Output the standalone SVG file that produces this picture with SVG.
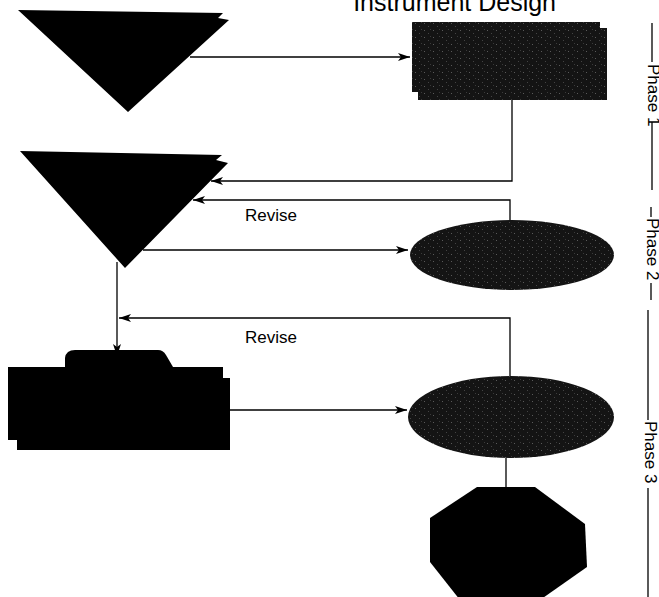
<svg xmlns="http://www.w3.org/2000/svg" width="659" height="597" viewBox="0 0 659 597">
<style>
  .lbl{font-family:"Liberation Sans",Arial,sans-serif;font-size:17px;fill:#000}
  .phase{font-family:"Liberation Sans",Arial,sans-serif;font-size:17px;fill:#000}
  .title{font-family:"Liberation Sans",Arial,sans-serif;font-size:25px;fill:#000}
  .conn{fill:none;stroke:#000;stroke-width:1.3}
  .solid{fill:#000}
  .speck{fill:url(#speckle)}
  .pl{stroke:#000;stroke-width:1.3}
</style>
<defs>
  <marker id="arr" viewBox="0 0 12 8" refX="12" refY="4" markerWidth="12" markerHeight="8" markerUnits="userSpaceOnUse" orient="auto">
    <path d="M0,0 L12,4 L0,8 L3,4 Z" fill="#000"/>
  </marker>
  <pattern id="speckle" width="9" height="7" patternUnits="userSpaceOnUse">
    <rect width="9" height="7" fill="#141414"/>
    <rect x="1" y="2" width="1" height="1" fill="#5a5a5a"/>
    <rect x="5" y="5" width="1" height="1" fill="#444"/>
    <rect x="7" y="1" width="1" height="1" fill="#3a3a3a"/>
  </pattern>
</defs>
<rect width="659" height="597" fill="#fff"/>
<text class="title" x="556" y="11" text-anchor="end">Instrument Design</text>

<g id="connectors">
  <path class="conn" d="M190,57 L410,57" marker-end="url(#arr)"/>
  <path class="conn" d="M512,100 V181 H211" marker-end="url(#arr)"/>
  <path class="conn" d="M510,221 V200 H193" marker-end="url(#arr)"/>
  <path class="conn" d="M143,250 H408" marker-end="url(#arr)"/>
  <path class="conn" d="M117,262 V356" marker-end="url(#arr)"/>
  <path class="conn" d="M510,377 V318 H119" marker-end="url(#arr)"/>
  <path class="conn" d="M230,410 H407" marker-end="url(#arr)"/>
  <path class="conn" d="M506,458 V488"/>
  <text class="lbl" x="245" y="221">Revise</text>
  <text class="lbl" x="245" y="343">Revise</text>
</g>

<g id="triangle1">
  <polygon class="solid" points="18,10 223,13 218,18 229,20 128,112"/>
</g>
<g id="rect1">
  <rect class="speck" x="412" y="22" width="188" height="70"/>
  <rect class="speck" x="418" y="28" width="189" height="72"/>
</g>
<g id="triangle2">
  <polygon class="solid" points="20,151 222,155 216,160 228,163 125,268"/>
</g>
<g id="ellipse1">
  <ellipse class="speck" cx="512" cy="255" rx="102" ry="35"/>
</g>
<g id="camera">
  <path class="solid" d="M65,367 L65,358 Q66,350 75,350 L158,350 Q163,350 166,355 L173,367 Z"/>
  <rect class="solid" x="8" y="367" width="215" height="73"/>
  <rect class="solid" x="17" y="378" width="213" height="72"/>
</g>
<g id="ellipse2">
  <ellipse class="speck" cx="511" cy="417" rx="103" ry="41"/>
</g>
<g id="octagon">
  <polygon class="solid" points="477,487 535,487 585,524 587,567 540,600 460,600 430,562 430,518"/>
</g>

<g id="phases">
  <line class="pl" x1="652" y1="23" x2="652" y2="62"/>
  <text class="phase" transform="translate(648,64) rotate(90)">Phase 1</text>
  <line class="pl" x1="652" y1="122" x2="652" y2="190"/>
  <line class="pl" x1="651" y1="207" x2="651" y2="217"/>
  <text class="phase" transform="translate(647,218) rotate(90)">Phase 2</text>
  <line class="pl" x1="651" y1="283" x2="651" y2="300"/>
  <line class="pl" x1="648" y1="310" x2="648" y2="420"/>
  <text class="phase" transform="translate(645,421) rotate(90)">Phase 3</text>
  <line class="pl" x1="648" y1="488" x2="648" y2="597"/>
</g>
</svg>
